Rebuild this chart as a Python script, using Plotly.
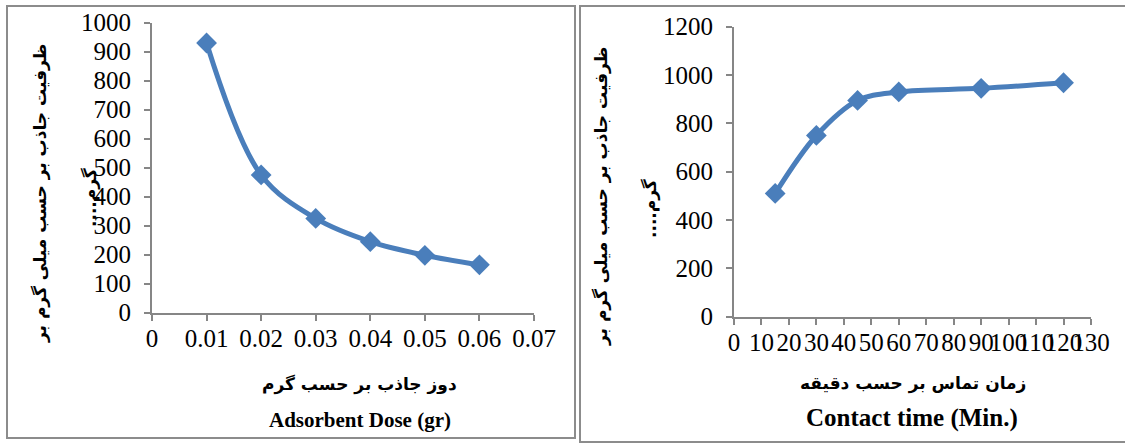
import plotly.graph_objects as go

# ---- data ----
dose = [0.01, 0.02, 0.03, 0.04, 0.05, 0.06]
dose_q = [930, 475, 325, 245, 198, 165]
time_min = [15, 30, 45, 60, 90, 120]
time_q = [510, 750, 895, 930, 945, 968]

left_xtitle_fa = "دوز جاذب بر حسب گرم"
left_xtitle_en = "Adsorbent Dose (gr)"
right_xtitle_fa = "زمان تماس بر حسب دقیقه"
right_xtitle_en = "Contact time (Min.)"
ytitle_line1 = "ظرفیت جاذب بر حسب میلی گرم بر"
ytitle_line2 = "گرم....\u200f"

W, H = 1125, 443
BLUE = "#4A7EBB"
GRAY = "#868686"

def px(x):
    return x / W

def py(y):
    return 1 - y / H

fig = go.Figure()
line_style = dict(color=BLUE, width=5, shape="spline", smoothing=1)
marker_style = dict(symbol="diamond", size=16, color=BLUE)
fig.add_trace(go.Scatter(x=dose, y=dose_q, mode="lines+markers", line=line_style,
                         marker=marker_style, xaxis="x", yaxis="y", showlegend=False))
fig.add_trace(go.Scatter(x=time_min, y=time_q, mode="lines+markers", line=line_style,
                         marker=marker_style, xaxis="x2", yaxis="y2", showlegend=False))

tickfont = dict(family="Liberation Serif", size=25, color="black")
common = dict(showline=True, linecolor=GRAY, linewidth=2, ticks="outside", ticklen=6,
              tickwidth=2, tickcolor=GRAY, showgrid=False, zeroline=False,
              tickfont=tickfont, fixedrange=True, automargin=False)

fig.update_layout(
    width=W, height=H, margin=dict(l=0, r=0, t=0, b=0, autoexpand=False),
    paper_bgcolor="white", plot_bgcolor="white",
    xaxis=dict(domain=[px(152), px(534)], range=[0, 0.07], dtick=0.01, tick0=0,
               anchor="y", tickangle=0, ticklabelstandoff=-4, **common),
    yaxis=dict(domain=[py(312.7), py(22.7)], range=[0, 1000], dtick=100, tick0=0,
               anchor="x", ticklabelstandoff=8, **common),
    xaxis2=dict(domain=[px(734), px(1091)], range=[0, 130], dtick=10, tick0=0,
                anchor="y2", tickangle=0, ticklabelstandoff=-4, **common),
    yaxis2=dict(domain=[py(316.7), py(26.7)], range=[0, 1200], dtick=200, tick0=0,
                anchor="x2", ticklabelstandoff=8, **common),
)

fa_font = dict(family="DejaVu Sans", size=17, color="black", weight="bold")
en_font_l = dict(family="Liberation Serif", size=21, color="black", weight="bold")
en_font_r = dict(family="Liberation Serif", size=25, color="black", weight="bold")

annots = [
    (left_xtitle_fa, 359, 384, fa_font, 0),
    (left_xtitle_en, 360, 420, en_font_l, 0),
    (right_xtitle_fa, 913, 383, fa_font, 0),
    (right_xtitle_en, 912, 418, en_font_r, 0),
    (ytitle_line1, 41, 193, fa_font, -90),
    (ytitle_line2, 90, 198, fa_font, -90),
    (ytitle_line1, 601, 196, fa_font, -90),
    (ytitle_line2, 650, 208, fa_font, -90),
]
for text, x, y, font, ang in annots:
    fig.add_annotation(text=text, x=px(x), y=py(y), xref="paper", yref="paper",
                       xanchor="center", yanchor="middle", showarrow=False,
                       font=font, textangle=ang)

# panel frames
fig.add_shape(type="rect", xref="paper", yref="paper", x0=px(7), x1=px(575),
              y0=py(438), y1=py(6), line=dict(color="#8c8c8c", width=2), layer="below")
fig.add_shape(type="rect", xref="paper", yref="paper", x0=px(580), x1=px(1135),
              y0=py(442), y1=py(6), line=dict(color="#8c8c8c", width=2), layer="below")

fig.write_html("out.html")
